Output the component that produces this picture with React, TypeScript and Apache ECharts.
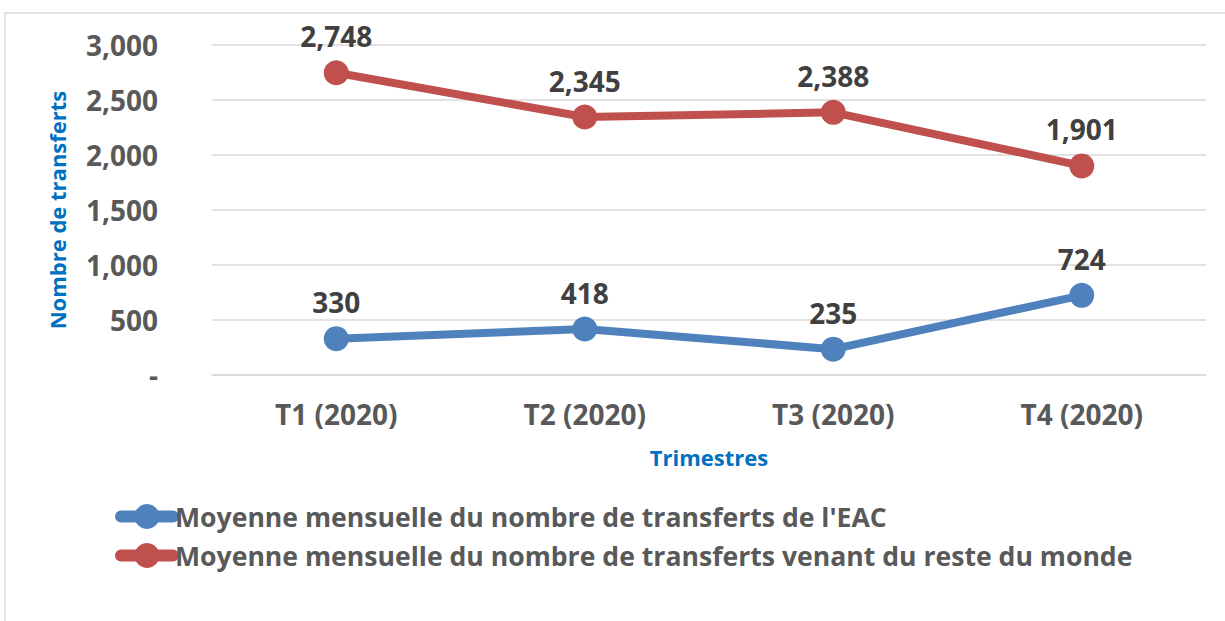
import React, { useEffect, useRef } from "react";
import * as echarts from "echarts";

const categories = ["T1 (2020)", "T2 (2020)", "T3 (2020)", "T4 (2020)"];
const eacValues = [330, 418, 235, 724];
const worldValues = [2748, 2345, 2388, 1901];
const seriesNames = [
  "Moyenne mensuelle du nombre de transferts de l'EAC",
  "Moyenne mensuelle du nombre de transferts venant du reste du monde",
];

const FONT = "'Open Sans', Lato, sans-serif";
const LEGEND_ICON =
  "path://M6,7 H58 A6,6 0 0 1 58,19 H6 A6,6 0 0 1 6,7 Z M32,0.5 A12.5,12.5 0 1 1 31.99,0.5 Z";

export default function App() {
  const ref = useRef<HTMLDivElement>(null);
  useEffect(() => {
    if (!ref.current) return;
    const chart = echarts.init(ref.current, null, { renderer: "svg" });
    const labelStyle = {
      show: true,
      position: "top" as const,
      distance: 10,
      fontFamily: FONT,
      fontWeight: "bold" as const,
      fontSize: 28,
      color: "#404040",
      formatter: (p: any) => Number(p.value).toLocaleString("en-US"),
    };
    chart.setOption({
      animation: false,
      backgroundColor: "#ffffff",
      textStyle: { fontFamily: FONT },
      graphic: [
        {
          type: "rect",
          shape: { x: 5, y: 13, width: 1240, height: 640 },
          style: { fill: "none", stroke: "#d9d9d9", lineWidth: 1.5 },
          silent: true,
        },
      ],
      grid: { left: 212, right: 19, top: 45, bottom: 246 },
      legend: {
        orient: "vertical",
        left: 110,
        top: 498,
        icon: LEGEND_ICON,
        itemWidth: 64,
        itemHeight: 26,
        itemGap: 12,
        textStyle: {
          fontFamily: FONT,
          fontWeight: "bold",
          fontSize: 26.6,
          color: "#595959",
          padding: [0, 0, 0, -9],
        },
        data: seriesNames,
      },
      xAxis: {
        type: "category",
        data: categories,
        boundaryGap: true,
        axisLine: { show: true, lineStyle: { color: "#d9d9d9", width: 1.5 } },
        axisTick: { show: false },
        axisLabel: {
          margin: 25,
          fontFamily: FONT,
          fontWeight: "bold",
          fontSize: 28,
          color: "#595959",
        },
        name: "Trimestres",
        nameLocation: "middle",
        nameGap: 71,
        nameTextStyle: {
          fontFamily: FONT,
          fontWeight: "bold",
          fontSize: 22,
          color: "#0070C0",
        },
      },
      yAxis: {
        type: "value",
        min: 0,
        max: 3000,
        interval: 500,
        axisLine: { show: false },
        axisTick: { show: false },
        splitLine: { lineStyle: { color: "#d9d9d9", width: 1.5 } },
        axisLabel: {
          margin: 54,
          fontFamily: FONT,
          fontWeight: "bold",
          fontSize: 28,
          color: "#595959",
          formatter: (v: number) => (v === 0 ? "-" : v.toLocaleString("en-US")),
        },
        name: "Nombre de transferts",
        nameLocation: "middle",
        nameGap: 144,
        nameTextStyle: {
          fontFamily: FONT,
          fontWeight: "bold",
          fontSize: 22,
          color: "#0070C0",
        },
      },
      series: [
        {
          name: seriesNames[0],
          type: "line",
          data: eacValues,
          symbol: "circle",
          symbolSize: 25,
          lineStyle: { width: 8, color: "#4F81BD" },
          itemStyle: { color: "#4F81BD" },
          label: labelStyle,
        },
        {
          name: seriesNames[1],
          type: "line",
          data: worldValues,
          symbol: "circle",
          symbolSize: 25,
          lineStyle: { width: 8, color: "#C0504D" },
          itemStyle: { color: "#C0504D" },
          label: labelStyle,
        },
      ],
    });
    return () => chart.dispose();
  }, []);
  return (
    <div
      ref={ref}
      style={{ position: "absolute", left: 0, top: 0, width: 1225, height: 621 }}
    />
  );
}
